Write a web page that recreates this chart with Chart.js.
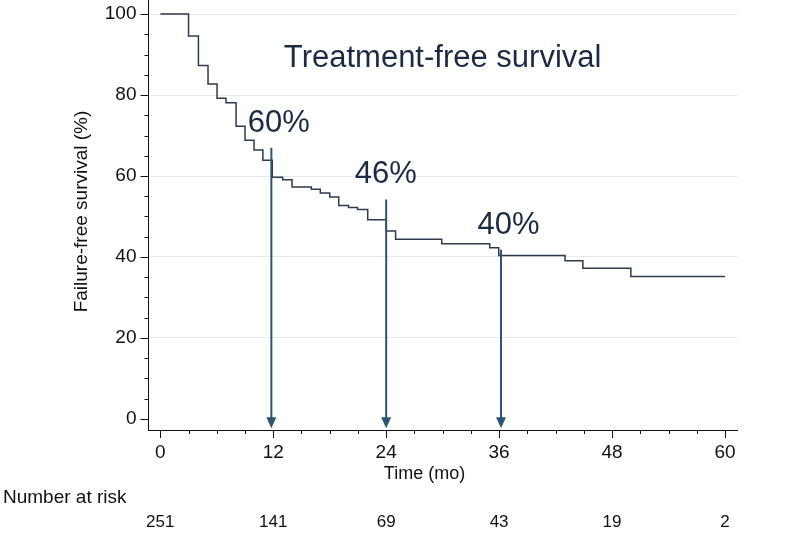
<!DOCTYPE html>
<html><head><meta charset="utf-8">
<script src="https://cdn.jsdelivr.net/npm/chart.js@4.4.0/dist/chart.umd.min.js"></script>
<style>html,body{margin:0;padding:0;background:#fff;}#wrap{width:798px;height:558px;position:relative;}</style>
</head><body><div id="wrap"><canvas id="c"></canvas></div>
<script>
// ---- data ----
const timeMonths = [0, 3.0, 4.05, 5.07, 6.03, 6.98, 8.05, 9.0, 9.96, 10.9, 11.9, 13.0, 14.0, 16.05, 17.0, 18.0, 18.96, 20.0, 20.95, 22.04, 24.0, 25.0, 29.9, 35.0, 35.96, 43.0, 44.9, 50.0, 60.0];
const survivalPct = [100, 94.6, 87.3, 82.7, 79.2, 78.1, 72.3, 68.8, 66.4, 63.9, 59.7, 59.1, 57.3, 56.7, 55.8, 54.8, 52.7, 52.2, 51.7, 49.2, 46.4, 44.4, 43.3, 42.3, 40.4, 39.1, 37.2, 35.2, 35.2];
const landmarkTimes = [11.8, 24, 36.2];
const landmarkTops = [67, 54.2, 41.8];
const landmarkLabels = ['60%', '46%', '40%'];
const xTickValues = [0,3,6,9,12,15,18,21,24,27,30,33,36,39,42,45,48,51,54,57,60];
const yTickValues = [0,5,10,15,20,25,30,35,40,45,50,55,60,65,70,75,80,85,90,95,100];
const riskTimes = [0, 12, 24, 36, 48, 60];
const riskCounts = [251, 141, 69, 43, 19, 2];
const chartTitle = 'Treatment-free survival';
const yTitle = 'Failure-free survival (%)';
const xTitle = 'Time (mo)';
const riskTitle = 'Number at risk';

const FONT = '"Liberation Sans", Arial, Helvetica, sans-serif';
const NAVY = '#1c2b45';
const ARROW = '#2d5573';
const CURVE = '#2f3a4f';

const overlay = {
  id: 'overlay',
  afterDatasetsDraw(chart) {
    const ctx = chart.ctx, xs = chart.scales.x, ys = chart.scales.y;
    ctx.save();
    ctx.strokeStyle = ARROW; ctx.fillStyle = ARROW; ctx.lineWidth = 2;
    const tipY = ys.getPixelForValue(-2.3);
    landmarkTimes.forEach((t, i) => {
      const x = xs.getPixelForValue(t);
      const y0 = ys.getPixelForValue(landmarkTops[i]);
      ctx.beginPath(); ctx.moveTo(x, y0); ctx.lineTo(x, tipY - 9); ctx.stroke();
      ctx.beginPath(); ctx.moveTo(x - 5, tipY - 11); ctx.lineTo(x + 5, tipY - 11); ctx.lineTo(x, tipY); ctx.closePath(); ctx.fill();
    });
    ctx.fillStyle = NAVY; ctx.textAlign = 'center'; ctx.textBaseline = 'alphabetic';
    ctx.font = '31px ' + FONT;
    ctx.fillText(chartTitle, xs.getPixelForValue(30), ys.getPixelForValue(86.9));
    const lblPos = [[12.6, 70.8], [23.96, 58.2], [36.99, 45.7]];
    landmarkLabels.forEach((s, i) => {
      ctx.fillText(s, xs.getPixelForValue(lblPos[i][0]), ys.getPixelForValue(lblPos[i][1]));
    });
    ctx.restore();
  },
  afterDraw(chart) {
    const ctx = chart.ctx, xs = chart.scales.x, ys = chart.scales.y;
    const ca = chart.chartArea;
    ctx.save();
    ctx.strokeStyle = '#111'; ctx.lineWidth = 1;
    yTickValues.forEach(v => {
      const y = Math.round(ys.getPixelForValue(v)) + 0.5;
      const len = v % 20 === 0 ? 8 : 4;
      ctx.beginPath(); ctx.moveTo(ca.left - len, y); ctx.lineTo(ca.left, y); ctx.stroke();
    });
    xTickValues.forEach(v => {
      const x = Math.round(xs.getPixelForValue(v)) + 0.5;
      const len = v % 12 === 0 ? 8 : 4;
      ctx.beginPath(); ctx.moveTo(x, ca.bottom); ctx.lineTo(x, ca.bottom + len); ctx.stroke();
    });
    ctx.fillStyle = '#111';
    ctx.save();
    ctx.translate(81.5, 211.5); ctx.rotate(-Math.PI / 2);
    ctx.font = '19px ' + FONT; ctx.textAlign = 'center'; ctx.textBaseline = 'middle';
    ctx.fillText(yTitle, 0, 0);
    ctx.restore();
    ctx.font = '18px ' + FONT; ctx.textAlign = 'center'; ctx.textBaseline = 'alphabetic';
    ctx.fillText(xTitle, 424.5, 479);
    ctx.font = '19px ' + FONT; ctx.textAlign = 'left';
    ctx.fillText(riskTitle, 3, 503);
    ctx.font = '17px ' + FONT; ctx.textAlign = 'center';
    riskTimes.forEach((t, i) => {
      ctx.fillText(String(riskCounts[i]), xs.getPixelForValue(t), 527);
    });
    ctx.restore();
  }
};

new Chart(document.getElementById('c'), {
  type: 'line',
  data: {
    datasets: [{
      data: timeMonths.map((t, i) => ({ x: t, y: survivalPct[i] })),
      stepped: 'before',
      borderColor: CURVE,
      borderWidth: 1.5,
      pointRadius: 0,
      fill: false
    }]
  },
  options: {
    responsive: true,
    maintainAspectRatio: false,
    animation: false,
    layout: { padding: { left: 0, right: 60.5, top: 0, bottom: 0 } },
    plugins: { legend: { display: false }, tooltip: { enabled: false }, title: { display: false } },
    scales: {
      x: {
        type: 'linear',
        min: -1.254, max: 61.33,
        afterBuildTicks: s => { s.ticks = xTickValues.map(v => ({ value: v })); },
        afterFit: s => { s.height = 128; s.paddingLeft = 0; s.paddingRight = 0; },
        grid: { drawOnChartArea: false, tickLength: 8, tickColor: 'transparent' },
        border: { display: true, color: '#111', width: 1 },
        ticks: {
          autoSkip: false, maxRotation: 0, padding: 3,
          color: '#111', font: { family: FONT, size: 19 },
          callback: v => (v % 12 === 0 ? String(v) : '')
        }
      },
      y: {
        type: 'linear',
        min: -2.72, max: 103.46,
        afterBuildTicks: s => { s.ticks = yTickValues.map(v => ({ value: v })); },
        afterFit: s => { s.width = 148.5; s.paddingTop = 0; s.paddingBottom = 0; },
        grid: {
          drawOnChartArea: true, tickLength: 8, tickColor: 'transparent',
          color: c => (c.tick && c.tick.value % 20 === 0 && c.tick.value > 0 ? '#e6e9ee' : 'transparent'),
          lineWidth: 1
        },
        border: { display: true, color: '#111', width: 1 },
        ticks: {
          autoSkip: false, padding: 4,
          color: '#111', font: { family: FONT, size: 19 },
          callback: v => (v % 20 === 0 ? String(v) : '')
        }
      }
    }
  },
  plugins: [overlay]
});
</script></body></html>
